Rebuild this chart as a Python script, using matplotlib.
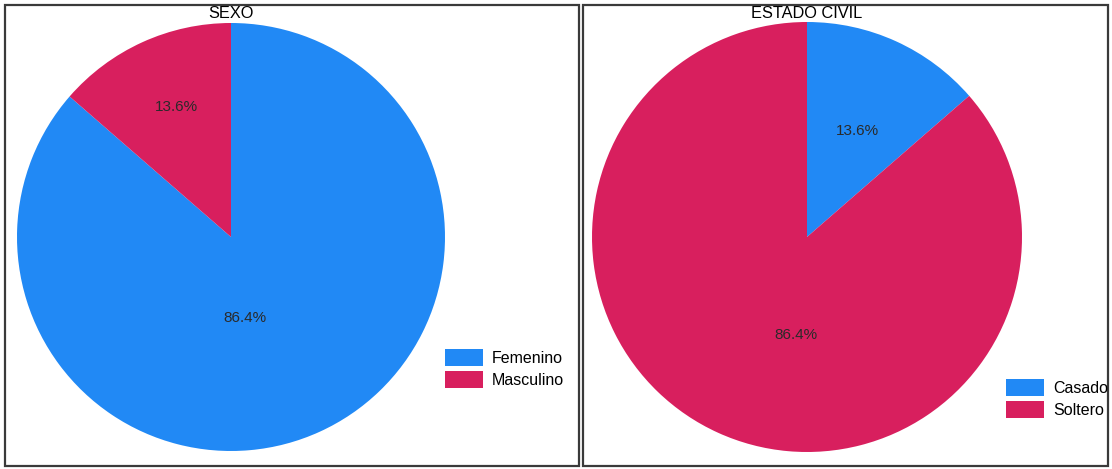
import matplotlib
matplotlib.use("Agg")
import matplotlib.pyplot as plt
from matplotlib.patches import Rectangle, Patch

plt.rcParams['font.family'] = ['Liberation Sans', 'DejaVu Sans']

# data
sexo_labels = ["Femenino", "Masculino"]
sexo_pct = [86.4, 13.6]
civil_labels = ["Casado", "Soltero"]
civil_pct = [13.6, 86.4]

BLUE = "#2189F5"
RED = "#D81F5E"

W, H = 1112, 469
fig = plt.figure(figsize=(W / 100, H / 100), dpi=100)


def px_box(x0, y0, x1, y1):
    # pixel box (top-left origin) -> figure fraction rect
    return [x0 / W, 1 - y1 / H, (x1 - x0) / W, (y1 - y0) / H]


def draw_panel(box, pie_box, title, labels, vals, colors, label_pos, leg_xy):
    l, b, w, h = px_box(*box)
    fig.patches.append(Rectangle((l, b), w, h, transform=fig.transFigure,
                                 fill=False, edgecolor="#3a3a3a", lw=1.6))
    ax = fig.add_axes(px_box(*pie_box))
    wedges, texts, autotexts = ax.pie(vals, colors=colors, startangle=90,
                                      counterclock=False, autopct="%.1f%%",
                                      textprops=dict(fontsize=11, color="#2a2a2a"))
    # move the percent labels to where the original puts them
    for t, pos in zip(autotexts, label_pos):
        t.set_position(pos)
    ax.set_xlim(-1, 1)
    ax.set_ylim(-1, 1)
    ax.set_aspect("equal")
    cx = (pie_box[0] + pie_box[2]) / 2
    fig.text(cx / W, 1 - 13 / H, title, ha="center", va="center", fontsize=11.8)
    handles = [Patch(facecolor=c, edgecolor="none") for c in colors]
    fig.legend(handles, labels, loc="upper left",
               bbox_to_anchor=(leg_xy[0] / W, 1 - leg_xy[1] / H),
               frameon=False, fontsize=11.5, borderpad=0, borderaxespad=0,
               handlelength=2.35, handleheight=1.27, handletextpad=0.6,
               labelspacing=0.3)


draw_panel((5, 5, 579, 466), (17, 23, 445, 451), "SEXO",
           sexo_labels, sexo_pct, [BLUE, RED],
           [(0.065, -0.38), (-0.257, 0.607)], (445, 349))
draw_panel((583, 5, 1108, 466), (592, 22, 1022, 452), "ESTADO CIVIL",
           civil_labels, civil_pct, [BLUE, RED],
           [(0.233, 0.493), (-0.051, -0.456)], (1006, 379))

fig.savefig("out.png", dpi=100)
